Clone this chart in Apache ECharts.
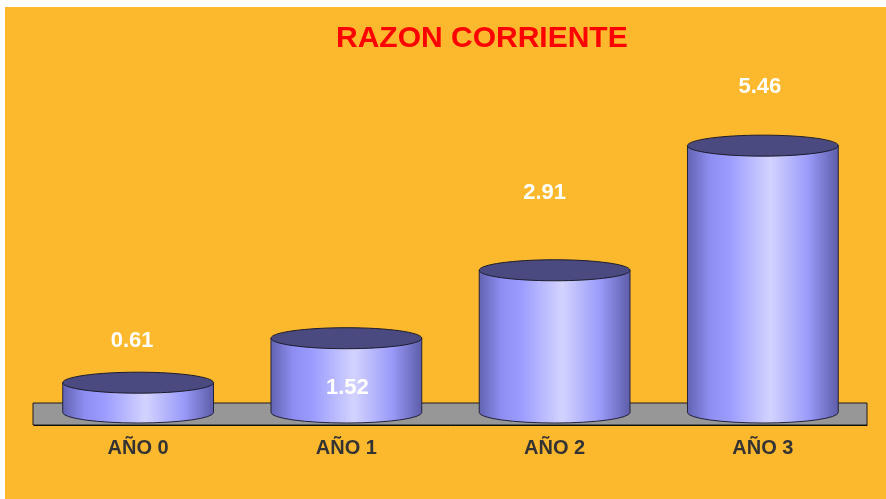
<!DOCTYPE html>
<html>
<head>
<meta charset="utf-8">
<script src="https://cdn.jsdelivr.net/npm/echarts@6/dist/echarts.min.js"></script>
<style>
  html, body { margin: 0; padding: 0; background: #fff; }
  #main { width: 886px; height: 499px; }
</style>
</head>
<body>
<div id="main"></div>
<script>
  const years = ['AÑO 0', 'AÑO 1', 'AÑO 2', 'AÑO 3'];
  const ratios = [0.61, 1.52, 2.91, 5.46];
  // the value labels sit where excel left them, relative to the cylinder top
  const labelShift = [[-6, -42], [1, 50], [-10, -77], [-3, -59]];

  const chart = echarts.init(document.getElementById('main'));

  const bodyFill = new echarts.graphic.LinearGradient(0, 0, 1, 0, [
    { offset: 0, color: '#6262b0' },
    { offset: 0.15, color: '#8e8ef2' },
    { offset: 0.28, color: '#9c9cff' },
    { offset: 0.55, color: '#d3d3ff' },
    { offset: 0.8, color: '#9a9afa' },
    { offset: 1, color: '#5c5ca8' }
  ]);

  function renderItem(params, api) {
    const i = api.value(0);
    const base = api.coord([i, 0]);
    const top = api.coord([i, api.value(1)]);
    const cs = params.coordSys;
    const rx = api.size([1, 0])[0] * 0.362;
    const ry = 10.5;
    const lift = 12.5;
    const x1 = base[0] - rx, x2 = base[0] + rx;
    const by = base[1] - lift, ty = top[1] - lift;
    const kids = [];
    if (params.dataIndex === 0) {
      // grey floor under the cylinders
      kids.push({
        type: 'rect',
        shape: { x: cs.x - 1, y: cs.y + cs.height - 22, width: cs.width + 1, height: 22 },
        style: { fill: '#979797', stroke: '#1a1a1a', lineWidth: 1 }
      });
    }
    kids.push({
      type: 'path',
      shape: {
        pathData: 'M' + x1 + ' ' + ty + ' L' + x1 + ' ' + by +
          ' A' + rx + ' ' + ry + ' 0 0 0 ' + x2 + ' ' + by +
          ' L' + x2 + ' ' + ty + ' Z'
      },
      style: { fill: bodyFill, stroke: '#22223a', lineWidth: 1 }
    });
    kids.push({
      type: 'ellipse',
      shape: { cx: base[0], cy: ty, rx: rx, ry: ry },
      style: { fill: '#4a4a80', stroke: '#1c1c2c', lineWidth: 1 }
    });
    const sh = labelShift[params.dataIndex];
    kids.push({
      type: 'text',
      style: {
        text: api.value(1).toFixed(2),
        x: base[0] + sh[0], y: ty + sh[1],
        fill: '#ffffff',
        font: 'bold 22px "Liberation Sans", Arial, sans-serif',
        align: 'center', verticalAlign: 'middle'
      }
    });
    return { type: 'group', children: kids };
  }

  const option = {
    animation: false,
    backgroundColor: '#ffffff',
    graphic: [{
      type: 'rect', z: -10,
      shape: { x: 5, y: 7, width: 881, height: 492 },
      style: { fill: '#fdb92e' }
    }],
    title: {
      text: 'RAZON CORRIENTE',
      left: 331,
      top: 19,
      textStyle: {
        color: '#ff0000',
        fontSize: 30,
        fontWeight: 'bold',
        fontFamily: '"Liberation Sans", Arial, sans-serif'
      }
    },
    grid: { left: 34, right: 19, top: 34, bottom: 74 },
    xAxis: {
      type: 'category',
      data: years,
      axisLine: { lineStyle: { color: '#000', width: 1 } },
      axisTick: { length: 5, lineStyle: { color: '#000' } },
      axisLabel: {
        color: '#333',
        fontSize: 20,
        fontWeight: 'bold',
        fontFamily: '"Liberation Sans", Arial, sans-serif',
        margin: 13
      }
    },
    yAxis: {
      type: 'value',
      min: 0,
      max: 8,
      show: false,
      splitLine: { show: false }
    },
    series: [{
      type: 'custom',
      renderItem: renderItem,
      encode: { x: 0, y: 1 },
      data: ratios.map((v, i) => [i, v])
    }]
  };

  chart.setOption(option);
</script>
</body>
</html>
